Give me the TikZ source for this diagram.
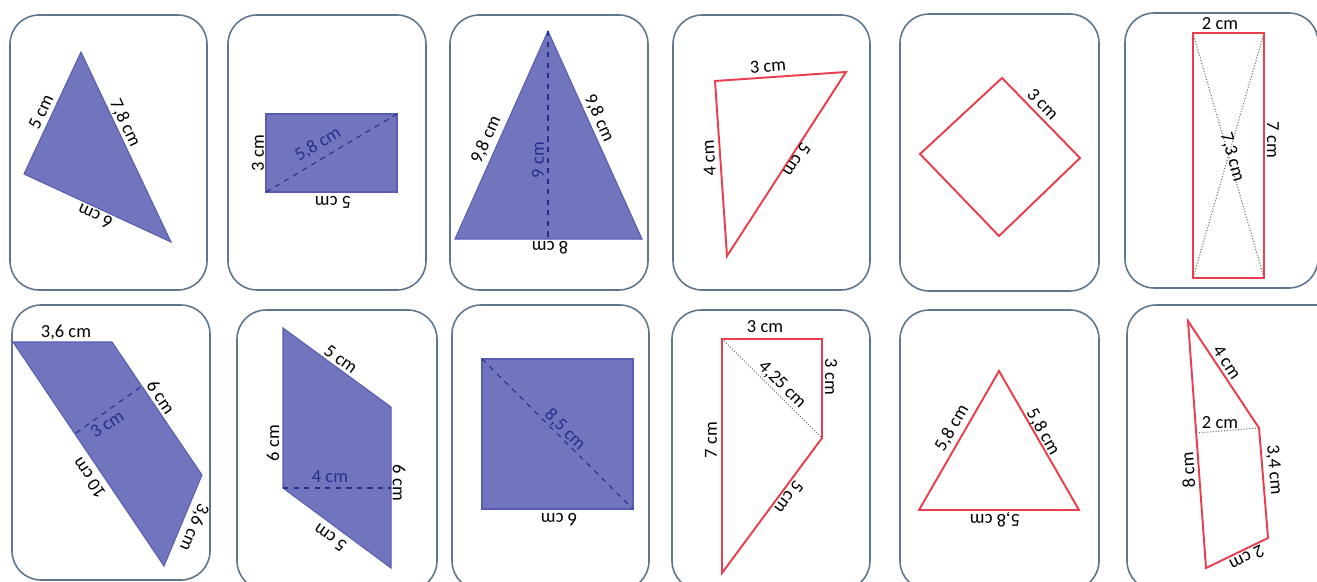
\documentclass[tikz,border=0pt]{standalone}
\usepackage{fontspec}
\setmainfont{Carlito}
\definecolor{cardline}{RGB}{95,118,140}
\definecolor{fillblue}{RGB}{112,117,190}
\definecolor{blueedge}{RGB}{88,93,178}
\definecolor{dashblue}{RGB}{40,46,140}
\definecolor{redline}{RGB}{232,62,78}
\definecolor{dotgray}{RGB}{110,110,110}
\tikzset{
  card/.style={draw=cardline, line width=0.9pt, rounded corners=0.58cm, fill=white},
  bluefig/.style={fill=fillblue, draw=blueedge, line width=0.6pt, line join=miter},
  redfig/.style={draw=redline, line width=1.1pt, line join=miter},
  bluedash/.style={draw=dashblue, dashed, line width=0.6pt},
  graydot/.style={draw=dotgray, densely dotted, line width=0.6pt},
  lbl/.style={font=\fontsize{10.5}{12}\selectfont, inner sep=0pt, text=black},
  blbl/.style={lbl, text=dashblue}
}
\begin{document}
\begin{tikzpicture}[x=0.02cm, y=-0.02cm]
\useasboundingbox (0,0) rectangle (1317,581);
\clip (0,0) rectangle (1317,581);
% ---------------- cards ----------------
\draw[card] (10,15) rectangle (207,290);
\draw[card] (228,15) rectangle (426,290);
\draw[card] (450,15) rectangle (648,290);
\draw[card] (673,15) rectangle (870,290);
\draw[card] (900,14) rectangle (1099,291);
\draw[card] (1125,13) rectangle (1318,288);
\draw[card] (12,305) rectangle (210,580);
\draw[card] (237,310) rectangle (437,590);
\draw[card] (452,305) rectangle (649,590);
\draw[card] (672,310) rectangle (870,590);
\draw[card] (900,310) rectangle (1099,590);
\draw[card] (1127,305) rectangle (1345,590);

% ---------------- card 1 : triangle ----------------
\coordinate (a1) at (81,52);
\coordinate (b1) at (24,174);
\coordinate (c1) at (171,242);
\draw[bluefig] (a1) -- (b1) -- (c1) -- cycle;
\node[lbl, rotate=65] (t1a) at (41,112) {5 cm};
\node[lbl, rotate=-64.7] (t1b) at (125,123) {7,8 cm};
\node[lbl, rotate=155] (t1c) at (95,216) {6 cm};

% ---------------- card 2 : rectangle ----------------
\coordinate (a2) at (266,114);
\coordinate (b2) at (397,192);
\draw[bluefig] (a2) rectangle (b2);
\draw[bluedash] (266,192) -- (397,114);
\node[lbl, rotate=90] (t2a) at (258,153) {3 cm};
\node[blbl, rotate=31] (t2b) at (318,144) {5,8 cm};
\node[lbl, rotate=180] (t2c) at (333,202) {5 cm};

% ---------------- card 3 : isosceles triangle ----------------
\coordinate (a3) at (548,31);
\coordinate (b3) at (455,239);
\coordinate (c3) at (642,239);
\coordinate (h3) at (548,239);
\draw[bluefig] (a3) -- (b3) -- (c3) -- cycle;
\draw[bluedash] (a3) -- (h3);
\node[lbl, rotate=66] (t3a) at (486,140) {9,8 cm};
\node[lbl, rotate=-66] (t3b) at (599,118) {9,8 cm};
\node[blbl, rotate=90] (t3c) at (538,160) {9 cm};
\node[lbl, rotate=180] (t3d) at (550,248) {8 cm};

% ---------------- card 4 : red triangle ----------------
\coordinate (a4) at (715,81);
\coordinate (b4) at (846,72);
\coordinate (c4) at (727,256);
\draw[redfig] (a4) -- (b4) -- (c4) -- cycle;
\node[lbl, rotate=4] (t4a) at (768,66) {3 cm};
\node[lbl, rotate=94] (t4b) at (709,158) {4 cm};
\node[lbl, rotate=-123] (t4c) at (797,160) {5 cm};

% ---------------- card 5 : red square ----------------
\coordinate (a5) at (1002,78);
\coordinate (b5) at (1080,158);
\coordinate (c5) at (999,236);
\coordinate (d5) at (920,154);
\draw[redfig] (a5) -- (b5) -- (c5) -- (d5) -- cycle;
\node[lbl, rotate=-46] (t5a) at (1043,104) {3 cm};

% ---------------- card 6 : red rectangle ----------------
\coordinate (a6) at (1193,33);
\coordinate (b6) at (1264,278);
\draw[graydot] (1193,33) -- (1264,278);
\draw[graydot] (1264,33) -- (1193,278);
\draw[redfig] (a6) rectangle (b6);
\node[lbl] (t6a) at (1220,24) {2 cm};
\node[lbl, rotate=-90] (t6b) at (1273,140) {7 cm};
\node[lbl, rotate=-74] (t6c) at (1232,157) {7,3 cm};

% ---------------- card 7 : blue parallelogram ----------------
\coordinate (a7) at (13,342);
\coordinate (b7) at (112,342);
\coordinate (c7) at (202,475);
\coordinate (d7) at (164,566);
\coordinate (e7) at (76,433);
\coordinate (f7) at (142,386);
\draw[bluefig] (a7) -- (b7) -- (c7) -- (d7) -- cycle;
\draw[bluedash] (e7) -- (f7);
\node[lbl] (t7a) at (66,332) {3,6 cm};
\node[lbl, rotate=-56] (t7b) at (161,397) {6 cm};
\node[blbl, rotate=34] (t7c) at (107,424) {3 cm};
\node[lbl, rotate=124] (t7d) at (89,478) {10 cm};
\node[lbl, rotate=-113] (t7e) at (194,527) {3,6 cm};

% ---------------- card 8 : blue parallelogram ----------------
\coordinate (a8) at (283,328);
\coordinate (b8) at (391,407);
\coordinate (c8) at (391,568);
\coordinate (d8) at (283,488);
\draw[bluefig] (a8) -- (b8) -- (c8) -- (d8) -- cycle;
\draw[bluedash] (d8) -- (391,488);
\node[lbl, rotate=-36] (t8a) at (341,359) {5 cm};
\node[lbl, rotate=90] (t8b) at (273,443) {6 cm};
\node[lbl, rotate=-90] (t8c) at (399,483) {6 cm};
\node[blbl] (t8d) at (330,477) {4 cm};
\node[lbl, rotate=144] (t8e) at (330,538) {5 cm};

% ---------------- card 9 : blue square ----------------
\coordinate (a9) at (482,359);
\coordinate (b9) at (633,509);
\draw[bluefig] (a9) rectangle (b9);
\draw[bluedash] (a9) -- (b9);
\node[blbl, rotate=-45] (t9a) at (565,430) {8,5 cm};
\node[lbl, rotate=180] (t9b) at (559,520) {6 cm};

% ---------------- card 10 : red trapezoid ----------------
\coordinate (a10) at (722,339);
\coordinate (b10) at (822,339);
\coordinate (c10) at (822,438);
\coordinate (d10) at (722,573);
\draw[graydot] (a10) -- (c10);
\draw[redfig] (a10) -- (b10) -- (c10) -- (d10) -- cycle;
\node[lbl] (t10a) at (765,327) {3 cm};
\node[lbl, rotate=-90] (t10b) at (831,377) {3 cm};
\node[lbl, rotate=-45] (t10c) at (782,385) {4,25 cm};
\node[lbl, rotate=90] (t10d) at (711,440) {7 cm};
\node[lbl, rotate=-126.5] (t10e) at (789,497) {5 cm};

% ---------------- card 11 : red equilateral triangle ----------------
\coordinate (a11) at (999,371);
\coordinate (b11) at (919,510);
\coordinate (c11) at (1079,510);
\draw[redfig] (a11) -- (b11) -- (c11) -- cycle;
\node[lbl, rotate=60] (t11a) at (952,428) {5,8 cm};
\node[lbl, rotate=-60] (t11b) at (1043,432) {5,8 cm};
\node[lbl, rotate=180] (t11c) at (995,520) {5,8 cm};

% ---------------- card 12 : red quadrilateral ----------------
\coordinate (a12) at (1188,321);
\coordinate (b12) at (1259,428);
\coordinate (c12) at (1268,538);
\coordinate (d12) at (1206,568);
\coordinate (e12) at (1196,433);
\draw[graydot] (e12) -- (b12);
\draw[redfig] (a12) -- (b12) -- (c12) -- (d12) -- cycle;
\node[lbl, rotate=-56] (t12a) at (1227,362) {4 cm};
\node[lbl] (t12b) at (1220,423) {2 cm};
\node[lbl, rotate=94] (t12c) at (1188,470) {8 cm};
\node[lbl, rotate=-85] (t12d) at (1274,470) {3,4 cm};
\node[lbl, rotate=-154] (t12e) at (1247,558) {2 cm};
\end{tikzpicture}
\end{document}
